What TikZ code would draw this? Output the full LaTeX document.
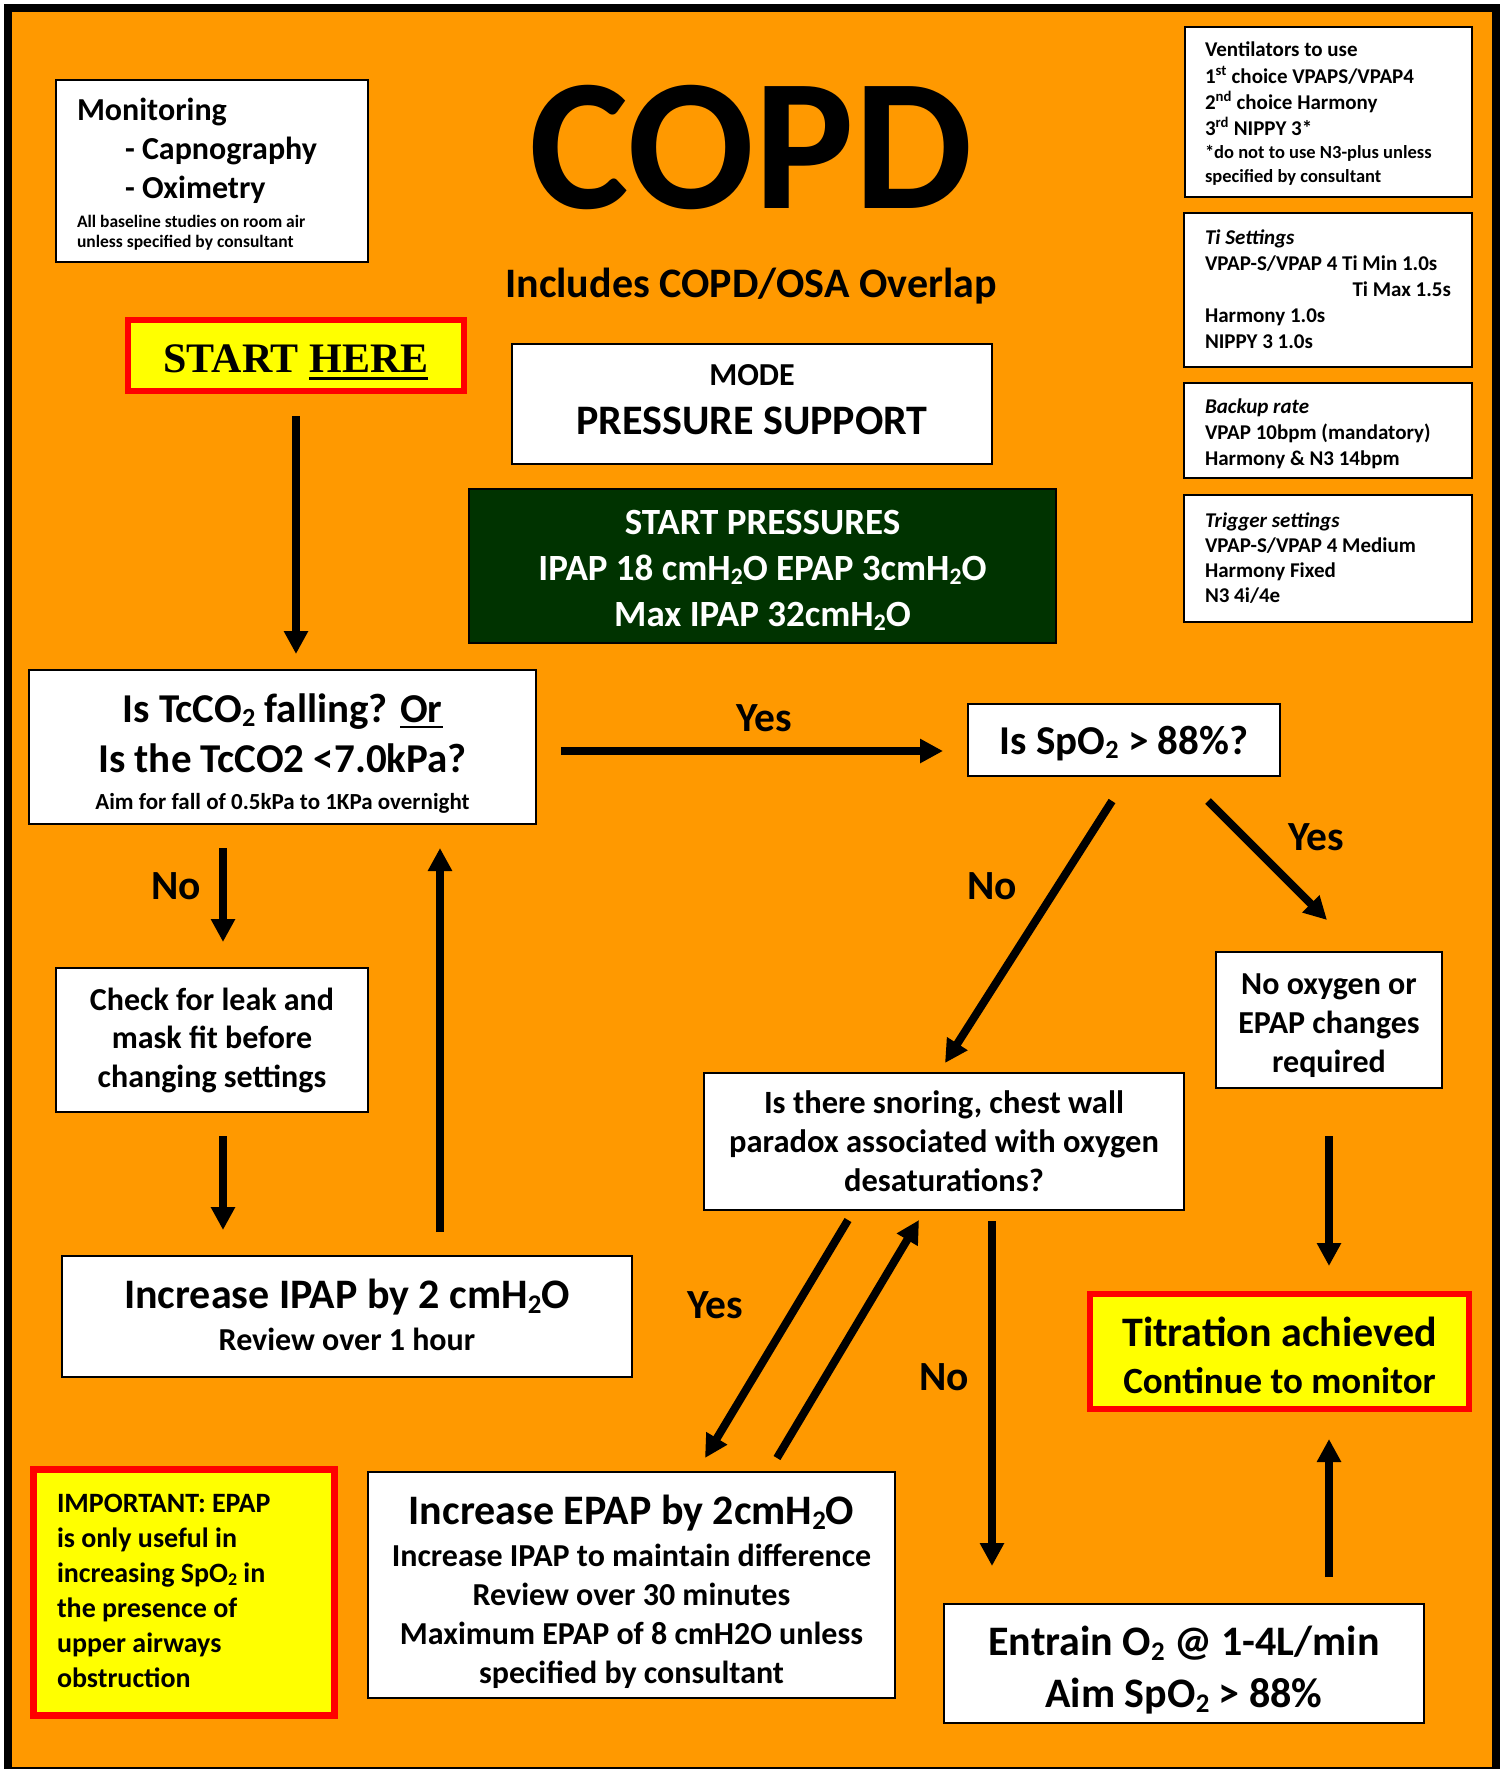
\documentclass[tikz,border=0pt]{standalone}
\usepackage{fontspec}
\usepackage{graphicx}
\setmainfont{Carlito}
\newfontfamily\timesf{Liberation Serif}
\usetikzlibrary{arrows.meta,calc}
\definecolor{bgor}{RGB}{255,153,0}
\definecolor{dkgreen}{RGB}{0,51,0}
\definecolor{yel}{RGB}{255,255,0}
\definecolor{redb}{RGB}{255,0,0}
\newcommand\fsz[2]{\fontsize{#1}{#2}\selectfont\bfseries\spaceskip=0pt\xspaceskip=0pt\relax}
\newcommand\xht[1]{\rule{0pt}{#1}}
\newcommand\xdp[1]{\rule[-#1]{0pt}{#1}}
\newcommand\myul[3]{\setbox0\hbox{#1}\rlap{\rule[-#2]{\wd0}{#3}}\box0}
\newcommand\sbs[1]{\raisebox{-0.12em}{\scalebox{0.64}{#1}}}
\tikzset{
  box/.style={draw=black, line width=2pt, fill=white, inner sep=0pt, align=flush center},
  infobox/.style={draw=black, line width=2pt, fill=white, inner ysep=0pt, align=flush left},
  redbox/.style={draw=redb, fill=yel, inner sep=0pt},
  arr/.style={line width=8pt, -{Triangle[length=23pt,width=23pt]}},
  lbl/.style={font=\fsz{41.5}{50}, inner sep=0pt, anchor=base},
}
\begin{document}
\begin{tikzpicture}[x=1pt,y=-1pt]
\useasboundingbox (0,0) rectangle (1504,1769);
\fill[white] (0,0) rectangle (1504,1769);
\fill[black] (4,4) rectangle (1500,1769);
\fill[bgor] (12,12) rectangle (1492,1767);

% info boxes
\node[infobox, inner xsep=21pt, text width=270pt, minimum height=182pt] (mon) at (212,171)
 {{\fsz{32}{39}\xht{30pt}Monitoring\\ \hspace*{48pt}- Capnography\\ \hspace*{48pt}- Oximetry\par}\vspace{9pt}{\fsz{17.5}{20}All baseline studies on room air\\ unless specified by consultant\xdp{5pt}\par}};

\node[infobox, inner xsep=20pt, text width=247pt, minimum height=170pt] (vent) at (1328.5,112)
 {{\fsz{21}{26}\xht{20pt}Ventilators to use\\ 1\textsuperscript{st} choice VPAPS/VPAP4\\ 2\textsuperscript{nd} choice Harmony\\ 3\textsuperscript{rd} NIPPY 3*\par}{\fsz{18.5}{23.5}*do not to use N3-plus unless\\ specified by consultant\xdp{5pt}\par}};

\node[infobox, inner xsep=21pt, text width=246pt, minimum height=154pt] (ti) at (1328,290)
 {{\fsz{21}{26}\xht{17pt}{\itshape Ti Settings}\\ VPAP-S/VPAP 4 Ti Min 1.0s\\ \mbox{}\hskip 0pt plus 1filll\relax Ti Max 1.5s\\ Harmony 1.0s\\ NIPPY 3 1.0s\xdp{5pt}\par}};

\node[infobox, inner xsep=21pt, text width=246pt, minimum height=95pt] (backup) at (1328,430.5)
 {{\fsz{21}{26}\xht{22pt}{\itshape Backup rate}\\ VPAP 10bpm (mandatory)\\ Harmony \& N3 14bpm\xdp{5pt}\par}};

\node[infobox, inner xsep=21pt, text width=246pt, minimum height=127pt] (trig) at (1328,558.5)
 {{\fsz{21}{25.3}\xht{18pt}{\itshape Trigger settings}\\ VPAP-S/VPAP 4 Medium\\ Harmony Fixed\\ N3 4i/4e\xdp{5pt}\par}};

% titles
\node[font=\fsz{188}{200}, inner sep=0pt] (title) at (751,147) {COPD};
\node[font=\fsz{42}{50}, inner sep=0pt, anchor=base] (subtitle) at (751,297) {Includes COPD/OSA Overlap};

% start
\node[redbox, line width=6pt, text width=336pt, align=flush center, minimum height=71pt] (start) at (296,355.5)
 {\timesf\fsz{42}{50}\xht{41pt}START \myul{HERE}{8pt}{3.3pt}\xdp{8pt}};

\node[box, text width=480pt, minimum height=120pt] (mode) at (752,404)
 {{\fsz{32}{40}\xht{24pt}MODE\par}{\fsz{42}{49}PRESSURE SUPPORT\xdp{13pt}\par}};

\node[box, fill=dkgreen, text=white, text width=587pt, minimum height=154pt] (press) at (762.5,566)
 {{\fsz{37}{46}\xht{38pt}START PRESSURES\\ IPAP 18 cmH\sbs{2}O EPAP 3cmH\sbs{2}O\\ Max IPAP 32cmH\sbs{2}O\xdp{10pt}\par}};

% flow boxes
\node[box, text width=507pt, minimum height=154pt] (tcco2) at (282.5,747)
 {{\fsz{41}{50}\xht{43pt}Is TcCO\sbs{2} falling? \myul{Or}{6pt}{2.5pt}\\ Is the TcCO2 <7.0kPa?\par}{\fsz{23}{37}Aim for fall of 0.5kPa to 1KPa overnight\xdp{6pt}\par}};

\node[box, text width=312pt, minimum height=72pt] (spo2) at (1124,740)
 {{\fsz{41}{50}\xht{36pt}Is SpO\sbs{2} > 88\%?\xdp{8pt}\par}};

\node[box, text width=226pt, minimum height=136pt] (noox) at (1329,1020)
 {{\fsz{32}{39}\xht{34pt}No oxygen or\\ EPAP changes\\ required\xdp{8pt}\par}};

\node[redbox, line width=6pt, text width=379pt, align=flush center, minimum height=115pt] (titr) at (1279.5,1351.5)
 {{\fsz{42}{50}\xht{46pt}Titration achieved\par}{\fsz{37}{47}Continue to monitor\xdp{10pt}\par}};

\node[box, text width=480pt, minimum height=119pt] (entrain) at (1184,1663.5)
 {{\fsz{42}{52}\xht{46pt}Entrain O\sbs{2} @ 1-4L/min\\ Aim SpO\sbs{2} > 88\%\xdp{11pt}\par}};

\node[box, text width=480pt, minimum height=137pt] (snore) at (944,1141.5)
 {{\fsz{32.5}{39}\xht{29pt}Is there snoring, chest wall\\ paradox associated with oxygen\\ desaturations?\xdp{8pt}\par}};

\node[box, text width=527pt, minimum height=226pt] (epap) at (631.5,1585)
 {{\fsz{42}{50}\xht{46pt}Increase EPAP by 2cmH\sbs{2}O\par}\vspace{3pt}{\fsz{32}{39}Increase IPAP to maintain difference\\ Review over 30 minutes\\ Maximum EPAP of 8 cmH2O unless\\ specified by consultant\xdp{8pt}\par}};

\node[box, text width=312pt, minimum height=144pt] (leak) at (212,1040)
 {{\fsz{32}{38.5}\xht{25pt}Check for leak and\\ mask fit before\\ changing settings\xdp{8pt}\par}};

\node[box, text width=570pt, minimum height=121pt] (ipap) at (347,1316.5)
 {{\fsz{42}{50}\xht{35pt}Increase IPAP by 2 cmH\sbs{2}O\par}{\fsz{32}{42}Review over 1 hour\xdp{10pt}\par}};

\node[redbox, line width=7pt, inner xsep=23.5pt, text width=254pt, align=flush left, minimum height=246pt] (imp) at (184,1592.5)
 {{\fsz{28}{35}\xht{21pt}IMPORTANT: EPAP\\ is only useful in\\ increasing SpO\sbs{2} in\\ the presence of\\ upper airways\\ obstruction\xdp{6pt}\par}};

% arrows
\draw[arr] ($(start.south)+(0,22)$) -- ($(start.south |- tcco2.north)+(0,-15)$);
\draw[arr] ($(tcco2.east)+(24,4)$) -- ($(spo2.west)+(-24,11)$);
\draw[arr] ($(spo2.south)+(-12,24)$) -- ($(snore.north)+(1,-9)$);
\draw[arr] ($(spo2.south)+(84,24)$) -- ($(noox.north)+(-2,-31)$);
\draw[arr] ($(noox.south)+(0,47)$) -- ($(noox.south |- titr.north)+(0,-25)$);
\draw[arr] ($(entrain.north -| noox.south)+(0,-26)$) -- ($(titr.south -| noox.south)+(0,27)$);
\draw[arr] ($(snore.south)+(48,10)$) -- ($(entrain.north)+(-192,-37)$);
\draw[arr] ($(snore.south)+(-96,9)$) -- ($(epap.north)+(73.5,-13)$);
\draw[arr] ($(epap.north)+(145.5,-13)$) -- ($(snore.south)+(-25,9)$);
\draw[arr] ($(tcco2.south)+(-59.5,23)$) -- ($(leak.north)+(11,-25)$);
\draw[arr] ($(leak.south)+(11,23)$) -- ($(ipap.north)+(-124,-25)$);
\draw[arr] ($(ipap.north)+(93,-23)$) -- ($(tcco2.south)+(157.5,23)$);

% labels
\node[lbl] (yes1) at (764,731) {Yes};
\node[lbl] (no1) at (176,899) {No};
\node[lbl] (no2) at (992,899) {No};
\node[lbl] (yes2) at (1316,850) {Yes};
\node[lbl] (yes3) at (715,1318) {Yes};
\node[lbl] (no3) at (944,1390) {No};
\end{tikzpicture}
\end{document}
